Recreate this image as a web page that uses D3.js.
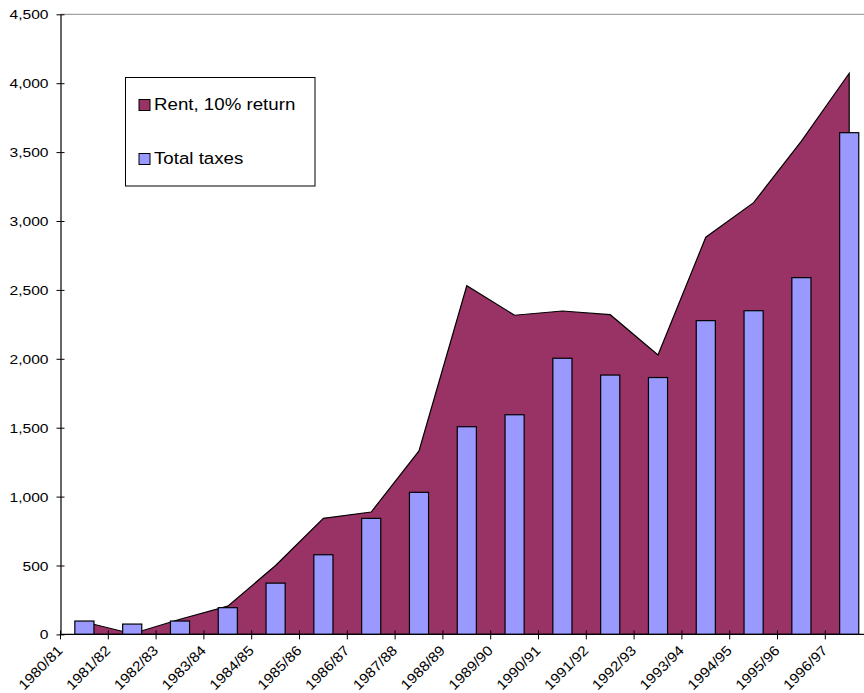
<!DOCTYPE html>
<html>
<head>
<meta charset="utf-8">
<script src="https://cdn.jsdelivr.net/npm/d3@7"></script>
<style>
  html, body { margin: 0; padding: 0; background: #fff; }
  svg { display: block; font-family: "Liberation Sans", Arial, sans-serif; }
</style>
</head>
<body>
<svg id="chart" width="864" height="693"></svg>
<script>
// Financial years on the category axis
const categories = ["1980/81","1981/82","1982/83","1983/84","1984/85","1985/86","1986/87",
  "1987/88","1988/89","1989/90","1990/91","1991/92","1992/93","1993/94","1994/95",
  "1995/96","1996/97"];

// Rent at a 10% return (area series)
const rent = [90, 5, 110, 205, 500, 842, 888, 1331, 2530, 2316, 2347, 2320, 2028,
  2882, 3133, 3580, 4072];

// Total taxes (column series)
const taxes = [97, 75, 97, 194, 372, 578, 842, 1031, 1507, 1594, 2004, 1882, 1864,
  2277, 2349, 2589, 3641];

// Value axis ticks
const yTicks = [0, 500, 1000, 1500, 2000, 2500, 3000, 3500, 4000, 4500];

const seriesNames = ["Rent, 10% return", "Total taxes"];
const colors = { rent: "#993366", taxes: "#9999FF" };

const svg = d3.select("#chart");

const plot = { left: 60.5, top: 14.3, bottom: 634.4, step: 47.8 };
plot.right = plot.left + plot.step * categories.length;

const x = d3.scaleBand().domain(categories).range([plot.left, plot.right]).padding(0);
const y = d3.scaleLinear().domain([0, 4500]).range([plot.bottom, plot.top]);

const cx = c => x(c) + x.bandwidth() / 2;

// Plot-area frame (top edge)
svg.append("line")
  .attr("x1", plot.left).attr("x2", plot.right)
  .attr("y1", y(4500)).attr("y2", y(4500))
  .attr("stroke", "#8c8c8c").attr("stroke-width", 1);

// Area series
const area = d3.area()
  .x((d, i) => cx(categories[i]))
  .y0(y(0))
  .y1(d => y(d));

svg.append("path")
  .datum(rent)
  .attr("d", area)
  .attr("fill", colors.rent)
  .attr("stroke", "#000")
  .attr("stroke-width", 1.2)
  .attr("stroke-linejoin", "miter");

// Column series
const barW = x.bandwidth() * 0.4;
svg.append("g").selectAll("rect")
  .data(taxes)
  .join("rect")
  .attr("x", (d, i) => cx(categories[i]) - barW / 2)
  .attr("y", d => y(d))
  .attr("width", barW)
  .attr("height", d => y(0) - y(d))
  .attr("fill", colors.taxes)
  .attr("stroke", "#000")
  .attr("stroke-width", 1.2);

// Value axis
const yAxis = svg.append("g")
  .attr("transform", `translate(${plot.left},0)`)
  .call(d3.axisLeft(y).tickValues(yTicks).tickFormat(d3.format(",")).tickSize(4).tickSizeOuter(0));
yAxis.select(".domain").attr("stroke", "#000").attr("stroke-width", 1.2);
yAxis.selectAll(".tick line").attr("x2", 4).attr("x1", -4).attr("stroke", "#000");
yAxis.selectAll(".tick text")
  .attr("x", null).attr("dy", null)
  .attr("text-anchor", "end")
  .attr("dominant-baseline", "central")
  .attr("transform", "translate(-12,0) scale(1.2,1)")
  .attr("font-size", 13)
  .attr("font-family", "Liberation Sans, Arial, sans-serif")
  .attr("fill", "#000");

// Category axis: baseline, boundary ticks and rotated labels
const xAxis = svg.append("g");
xAxis.append("line")
  .attr("x1", plot.left).attr("x2", plot.right)
  .attr("y1", y(0)).attr("y2", y(0))
  .attr("stroke", "#000").attr("stroke-width", 1.2);
xAxis.selectAll("line.tick")
  .data(categories)
  .join("line")
  .attr("class", "tick")
  .attr("x1", d => x(d)).attr("x2", d => x(d))
  .attr("y1", y(0) - 4).attr("y2", y(0) + 5)
  .attr("stroke", "#000");
xAxis.selectAll("text")
  .data(categories)
  .join("text")
  .attr("transform", d => `translate(${x(d) + 3},${y(0) + 17}) rotate(-45) scale(1.1,1)`)
  .attr("text-anchor", "end")
  .attr("font-size", 14)
  .attr("fill", "#000")
  .text(d => d);

// Legend
const legend = svg.append("g");
legend.append("rect")
  .attr("x", 125.5).attr("y", 77.5)
  .attr("width", 189.5).attr("height", 108.5)
  .attr("fill", "#fff").attr("stroke", "#000");
const items = [
  { name: seriesNames[0], color: colors.rent, y: 110 },
  { name: seriesNames[1], color: colors.taxes, y: 164 }
];
items.forEach(it => {
  legend.append("rect")
    .attr("x", 139).attr("y", it.y - 10.5)
    .attr("width", 11).attr("height", 11)
    .attr("fill", it.color).attr("stroke", "#000");
  legend.append("text")
    .attr("transform", `translate(154,${it.y}) scale(1.1,1)`)
    .attr("font-size", 17)
    .attr("fill", "#000")
    .text(it.name);
});
</script>
</body>
</html>
